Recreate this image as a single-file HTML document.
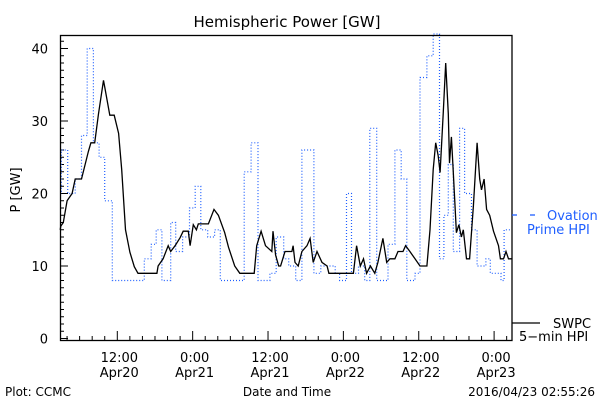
<!DOCTYPE html>
<html><head><meta charset="utf-8"><style>
html,body{margin:0;padding:0;background:#fff;}
svg{display:block;font-family:"DejaVu Sans","Liberation Sans",sans-serif;}
</style></head><body>
<svg id="chart" width="600" height="400" viewBox="0 0 600 400" xmlns="http://www.w3.org/2000/svg">
<rect width="600" height="400" fill="#fff"/>
<text x="287" y="27" font-size="15" text-anchor="middle">Hemispheric Power [GW]</text>
<text transform="translate(20,190) rotate(-90)" font-size="13" text-anchor="middle">P [GW]</text>
<g id="axes"></g>
<g id="series"></g>
<rect x="60.5" y="35.5" width="451.5" height="305" fill="none" stroke="#000" stroke-width="1.3"/>
<line x1="512" y1="215" x2="517" y2="215" stroke="#1f5fff" stroke-width="1.3"/>
<line x1="530" y1="215" x2="535" y2="215" stroke="#1f5fff" stroke-width="1.3"/>
<text x="547" y="220" font-size="13" fill="#1f5fff">Ovation</text>
<text x="527" y="234" font-size="13" fill="#1f5fff">Prime HPI</text>
<line x1="512" y1="323" x2="540" y2="323" stroke="#000" stroke-width="1.3"/>
<text x="553" y="328" font-size="13">SWPC</text>
<text x="519" y="341" font-size="13">5−min HPI</text>
<text x="287" y="396" font-size="12" text-anchor="middle">Date and Time</text>
<text x="5" y="396" font-size="12">Plot: CCMC</text>
<text x="595" y="396" font-size="12" text-anchor="end">2016/04/23 02:55:26</text>
</svg>
<script>
const yTicks=[0,10,20,30,40];
const xTickHours=[12,24,36,48,60,72];
const xTickTop=["12:00","0:00","12:00","0:00","12:00","0:00"];
const xTickBottom=["Apr20","Apr21","Apr21","Apr22","Apr22","Apr23"];
// SWPC 5-min HPI: hours since 0:00 Apr20, values GW
const swpcHours=[2.9,3.0,3.4,4.0,4.8,5.3,6.3,7.4,7.8,8.4,9.0,9.8,10.0,10.8,11.5,12.2,12.7,13.3,14.0,14.7,15.3,18.3,18.5,19.3,20.1,20.5,21.2,22.0,22.5,23.3,23.6,24.1,24.6,24.9,26.5,27.4,28.1,29.1,29.7,30.7,31.5,33.8,34.2,34.9,35.6,36.6,36.8,37.2,37.7,38.0,38.7,39.8,40.0,40.3,40.8,41.4,42.2,42.7,43.2,43.8,44.6,45.4,45.7,49.6,50.1,50.7,51.2,51.7,52.3,53.0,53.5,54.3,54.9,55.4,56.2,56.7,57.5,57.9,58.6,59.4,60.2,61.3,61.8,62.3,62.7,63.1,63.4,63.9,64.3,64.7,64.9,65.2,65.5,66.0,66.4,66.8,67.1,67.6,68.1,68.7,69.3,69.7,70.0,70.4,70.8,71.3,71.9,72.7,73.0,73.5,73.9,74.3,74.85];
const swpcValues=[15,15.5,16,19,20,22,22,25.8,27,27,31,35.6,34.7,30.8,30.8,28.3,23.3,15,11.9,9.9,9,9,10,11,12.8,12,12.8,13.9,14.8,14.8,12.8,15.7,15,15.8,15.8,17.8,17,14.6,12.6,10,9,9,12.8,14.8,12.8,12,14.8,11.5,10,10,12,12,12.8,10.5,10,12,12.8,13.8,10.5,12,10.5,10,9,9,12.8,10,11,9,10,9,10.5,13.8,10.5,11,11,12,12,12.8,12,11,10,10,15,23.3,27,25.2,22.9,31,38,31,24.2,27.8,22.9,14.6,15.7,14,15,11,11,18.3,27,22,20.5,22,17.8,17,14.8,12.8,11,11,12,11,11];
// Ovation Prime HPI: step series, start hour of each step and value
const ovStart=[2.9,3.1,4.1,5.3,6.3,7.2,8.2,9.1,10.0,11.2,16.3,17.4,18.2,19.1,20.5,21.3,22.4,23.5,24.4,25.3,26.4,27.5,28.4,32.2,33.3,34.4,36.3,37.3,38.5,39.3,40.4,41.4,43.3,44.4,46.7,47.4,48.5,49.3,50.4,51.4,52.2,53.3,55.1,56.2,57.2,58.1,59.4,60.2,61.3,62.3,63.3,64.0,64.7,65.5,66.5,67.3,68.4,69.3,70.7,71.4,73.1,73.6,74.3];
const ovValues=[20,26,20,22,28,40,27,25,19,8,11,13,15,8,16,12,14,18,21,15,14,15,8,23,27,8,9,14,11,10,8,26,9,10,9,8,20,9,10,8,29,8,13,26,22,8,9,36,39,42,11,17,24,12,29,20,15,10,11,9,8,15,15];
const ovEnd=74.85;

const NS="http://www.w3.org/2000/svg";
const X=h=>117.3+(h-12)*6.28;
const Y=v=>Math.max(33,338.5-7.25*v);
const axes=document.getElementById('axes');
const series=document.getElementById('series');
function mk(tag,attrs,parent){const e=document.createElementNS(NS,tag);for(const k in attrs)e.setAttribute(k,attrs[k]);parent.appendChild(e);return e;}

for(let v=0;v<=41;v++){
  const t=mk('line',{x1:60.5,x2:v%10===0?68:64,y1:Y(v),y2:Y(v),stroke:'#000','stroke-width':1},axes);
  
  
}
yTicks.forEach(v=>{
  const t=mk('text',{x:48,y:Y(v)+5,'font-size':13,'text-anchor':'end'},axes);
  t.textContent=String(v);
  
  
});
for(let h=4;h<=74;h+=2){
  const major=h%12===0;
  const t=mk('line',{x1:X(h),x2:X(h),y1:341,y2:major?331:336,stroke:'#000','stroke-width':1},axes);
  
  
}
xTickHours.forEach((h,i)=>{
  const a=mk('text',{x:X(h)+2,y:362,'font-size':13,'text-anchor':'middle'},axes);
  a.textContent=xTickTop[i];
  
  
  const b=mk('text',{x:X(h)+2,y:377,'font-size':13,'text-anchor':'middle'},axes);
  b.textContent=xTickBottom[i];
  
  
});

let d='';
ovStart.forEach((h,i)=>{
  const e=i+1<ovStart.length?ovStart[i+1]:ovEnd;
  d+=(i===0?'M':'L')+X(h).toFixed(1)+' '+Y(ovValues[i]).toFixed(1)+' L'+X(e).toFixed(1)+' '+Y(ovValues[i]).toFixed(1)+' ';
});
const ov=mk('path',{d:d,fill:'none',stroke:'#1f5fff','stroke-width':1.2,'stroke-dasharray':'1 2'},series);



const pts=swpcHours.map((h,i)=>X(h).toFixed(1)+','+Y(swpcValues[i]).toFixed(1)).join(' ');
const sw=mk('polyline',{points:pts,fill:'none',stroke:'#000','stroke-width':1.3},series);


</script>
</body></html>
